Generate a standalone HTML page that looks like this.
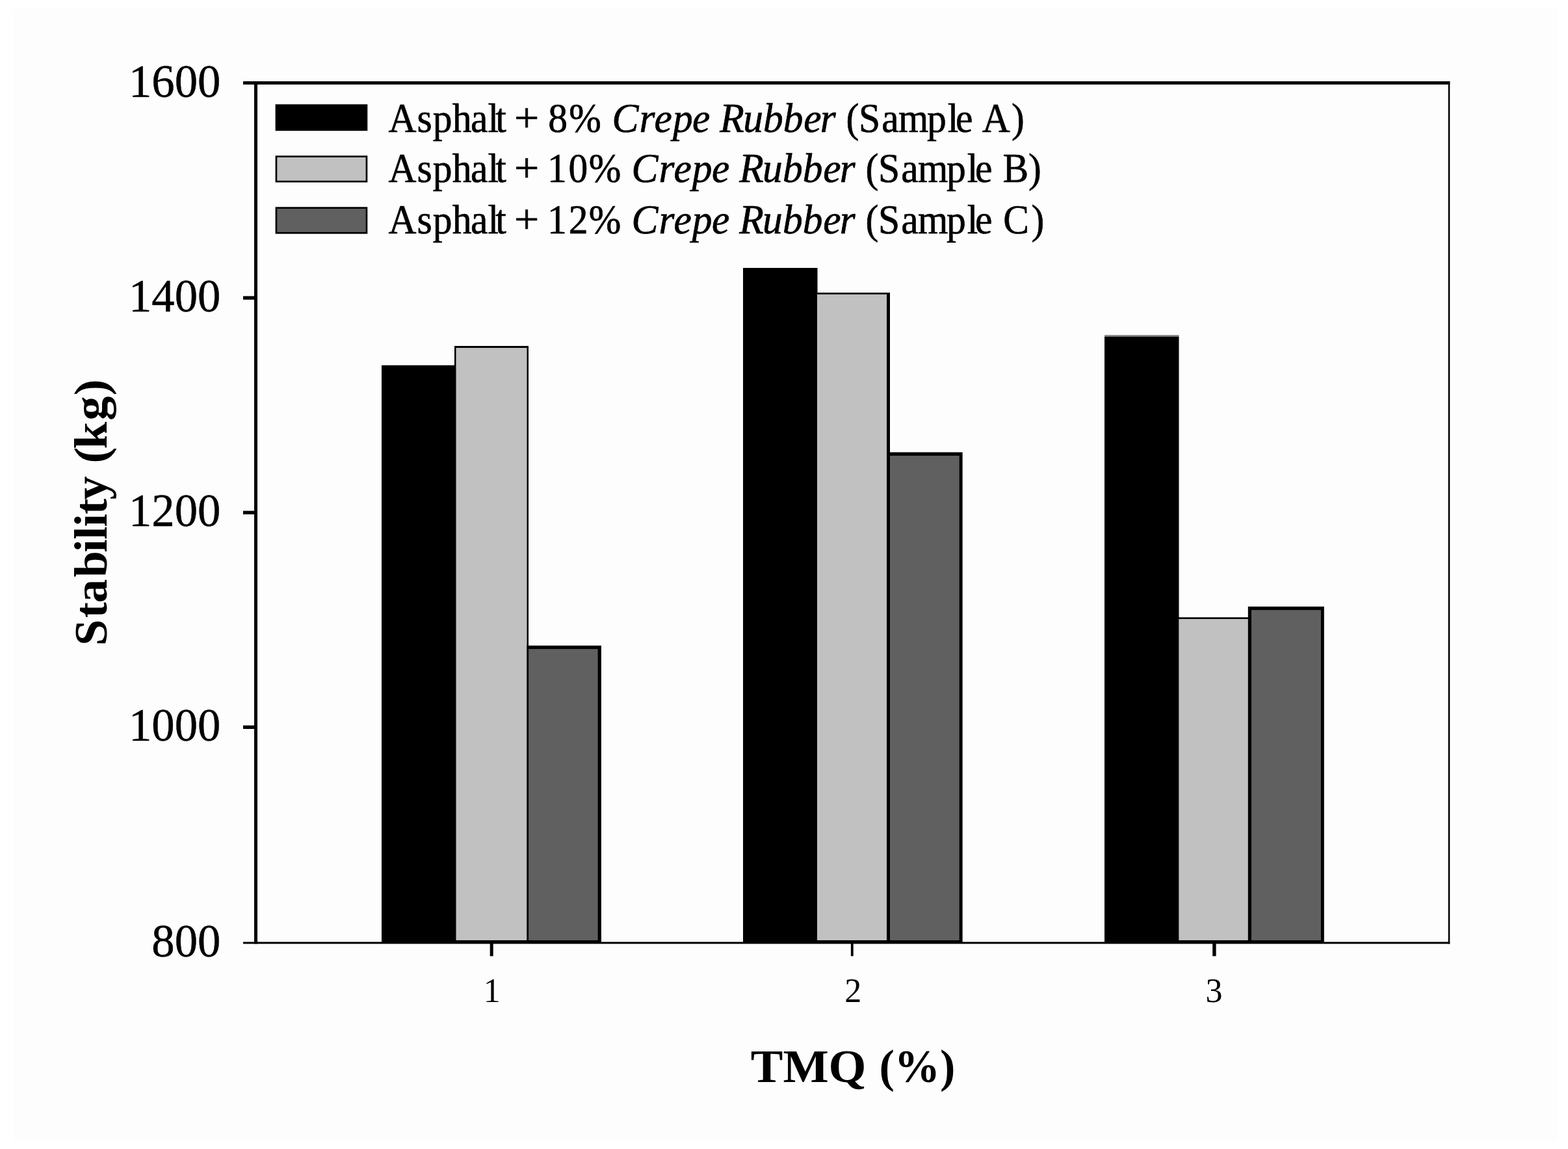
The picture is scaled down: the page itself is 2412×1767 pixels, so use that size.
<!DOCTYPE html>
<html lang="en">
<head>
<meta charset="utf-8">
<title>Stability (kg) vs TMQ (%)</title>
<style>
  html, body { margin: 0; padding: 0; background: #ffffff; }
  body { width: 2412px; height: 1767px; overflow: hidden; }
  svg { display: block; }
  text { font-family: "Liberation Serif", "DejaVu Serif", serif; fill: #000; }
  .ytick { font-size: 72.5px; text-anchor: end; stroke: #000; stroke-width: 0.5px; }
  .xtick { font-size: 52px; text-anchor: middle; }
  .title { font-size: 71px; font-weight: bold; }
  .leg   { font-size: 64px; stroke: #000; stroke-width: 0.7px; }
  .it    { font-style: italic; }
</style>
</head>
<body>
<svg width="2412" height="1767" viewBox="0 0 2412 1767">
  <rect x="0" y="0" width="2412" height="1767" fill="#ffffff"/>
  <rect x="20" y="14" width="2377" height="1741" fill="#fdfdfd"/>

  <!-- bars -->
  <g id="bars">
    <!-- group 1 -->
    <rect x="587" y="561.7" width="113" height="889" fill="#000"/>
    <rect x="699" y="532" width="114" height="919" fill="#000"/>
    <rect x="701.5" y="535" width="109" height="911" fill="#c1c1c1"/>
    <rect x="810.5" y="992.8" width="114.4" height="458" fill="#000"/>
    <rect x="813.1" y="998.1" width="106.5" height="447.9" fill="#606060"/>
    <!-- group 2 -->
    <rect x="1143" y="412" width="114.5" height="1039" fill="#000"/>
    <rect x="1257" y="450" width="112" height="1001" fill="#000"/>
    <rect x="1257" y="452.7" width="107" height="993.3" fill="#c1c1c1"/>
    <rect x="1364" y="695.5" width="116.6" height="755" fill="#000"/>
    <rect x="1369" y="700.8" width="106.7" height="745.2" fill="#606060"/>
    <!-- group 3 -->
    <rect x="1699" y="515.1" width="114.5" height="3" fill="#86868c"/>
    <rect x="1699" y="517.8" width="114.5" height="933.2" fill="#000"/>
    <rect x="1813" y="949.3" width="107" height="501" fill="#000"/>
    <rect x="1813.3" y="952" width="106.7" height="494" fill="#c1c1c1"/>
    <rect x="1919.8" y="932.8" width="117" height="518" fill="#000"/>
    <rect x="1925" y="938.1" width="106.9" height="507.9" fill="#606060"/>
  </g>

  <!-- frame -->
  <g id="frame" fill="#000">
    <rect x="374" y="125" width="1856.2" height="5"/>
    <rect x="391" y="125" width="5" height="1326.5"/>
    <rect x="2227.7" y="125" width="2.6" height="1326.5"/>
    <rect x="374" y="1448.5" width="1856.2" height="3"/>
    <!-- y ticks -->
    <rect x="374" y="455.4" width="19" height="5.4"/>
    <rect x="374" y="785.6" width="19" height="5.4"/>
    <rect x="374" y="1115.6" width="19" height="5.4"/>
    <!-- x ticks -->
    <rect x="753.7" y="1450" width="5" height="20.4"/>
    <rect x="1308.9" y="1450" width="3.8" height="20.4"/>
    <rect x="1865.2" y="1450" width="5.4" height="20.4"/>
  </g>

  <!-- legend swatches -->
  <g id="legend-swatches">
    <rect x="423.6" y="160.4" width="141.7" height="40.8" fill="#000"/>
    <rect x="423.6" y="239.3" width="141.7" height="41.2" fill="#000"/>
    <rect x="426.3" y="242" width="136.3" height="35.8" fill="#c1c1c1"/>
    <rect x="423.6" y="318.3" width="141.7" height="41.3" fill="#000"/>
    <rect x="426.3" y="321" width="136.3" height="35.9" fill="#606060"/>
  </g>

  <g id="legend-text" class="leg">
    <g id="legend-row-1" transform="translate(0 202.5)">
      <text transform="scale(0.93 1)" x="642.6 689.8 715.8 748.1 778.4 806.9 819.7">Asphalt</text>
      <text transform="scale(1.06 1)" x="746.3">+</text>
      <text transform="scale(0.93 1)" x="906.7 941.2">8%</text>
      <text class="it" transform="scale(0.96 1)" x="980.8 1024.4 1048.4 1078.0 1109.4">Crepe</text>
      <text class="it" transform="scale(0.96 1)" x="1153.4 1190.8 1223.0 1255.0 1287.7 1314.3">Rubber</text>
      <text transform="scale(0.93 1)" x="1399.4 1420.5 1458.3 1486.1 1533.4 1567.5 1580.7">(Sample</text>
      <text transform="scale(0.93 1)" x="1624.5 1673.1">A)</text>
    </g>
    <g id="legend-row-2" transform="translate(0 280.1)">
      <text transform="scale(0.93 1)" x="642.6 689.8 715.8 748.1 778.4 806.9 819.7">Asphalt</text>
      <text transform="scale(1.06 1)" x="746.3">+</text>
      <text transform="scale(0.93 1)" x="905.5 940.4 974.0">10%</text>
      <text class="it" transform="scale(0.96 1)" x="1012.0 1055.6 1079.6 1109.2 1140.6">Crepe</text>
      <text class="it" transform="scale(0.96 1)" x="1184.6 1222.0 1254.1 1286.2 1318.9 1345.5">Rubber</text>
      <text transform="scale(0.93 1)" x="1431.6 1452.7 1490.5 1518.3 1565.6 1599.7 1612.9">(Sample</text>
      <text transform="scale(0.93 1)" x="1658.6 1701.1">B)</text>
    </g>
    <g id="legend-row-3" transform="translate(0 359.0)">
      <text transform="scale(0.93 1)" x="642.6 689.8 715.8 748.1 778.4 806.9 819.7">Asphalt</text>
      <text transform="scale(1.06 1)" x="746.3">+</text>
      <text transform="scale(0.93 1)" x="905.5 940.7 974.0">12%</text>
      <text class="it" transform="scale(0.96 1)" x="1012.0 1055.6 1079.6 1109.2 1140.6">Crepe</text>
      <text class="it" transform="scale(0.96 1)" x="1184.6 1222.0 1254.1 1286.2 1318.9 1345.5">Rubber</text>
      <text transform="scale(0.93 1)" x="1431.6 1452.7 1490.5 1518.3 1565.6 1599.7 1612.9">(Sample</text>
      <text transform="scale(0.93 1)" x="1659.5 1705.8">C)</text>
    </g>
  </g>
  <g id="yticks" class="ytick">
    <text transform="translate(339.3 149.1) scale(0.975 1)">1600</text>
    <text transform="translate(339.3 479.1) scale(0.975 1)">1400</text>
    <text transform="translate(339.3 809.1) scale(0.975 1)">1200</text>
    <text transform="translate(339.3 1139.1) scale(0.975 1)">1000</text>
    <text transform="translate(339.3 1470.5) scale(0.975 1)">800</text>
  </g>
  <g id="xticks" class="xtick">
    <text x="756.8" y="1541">1</text>
    <text x="1312.2" y="1541">2</text>
    <text x="1867.6" y="1541">3</text>
  </g>
  <g id="xtitle" class="title" style="font-size:72px">
    <text transform="translate(1154.77 1664.1) scale(1.0333 1)">TMQ</text>
    <text transform="translate(1352.47 1664.1) scale(0.9754 1)">(%)</text>
  </g>
  <g id="ytitle" class="title" transform="translate(163.8 990) rotate(-90)">
    <text transform="translate(-3.59 0) scale(1.0218 1)" dx="0.5 2.5 -1.05 3.05 -2.05 -0.5 -0.65 -0.9 -1.5">Stability</text>
    <text transform="translate(277.93 0) scale(1.0578 1)" dx="-0.4 -2.85 1.95 0.8">(kg)</text>
  </g>
</svg>
</body>
</html>
